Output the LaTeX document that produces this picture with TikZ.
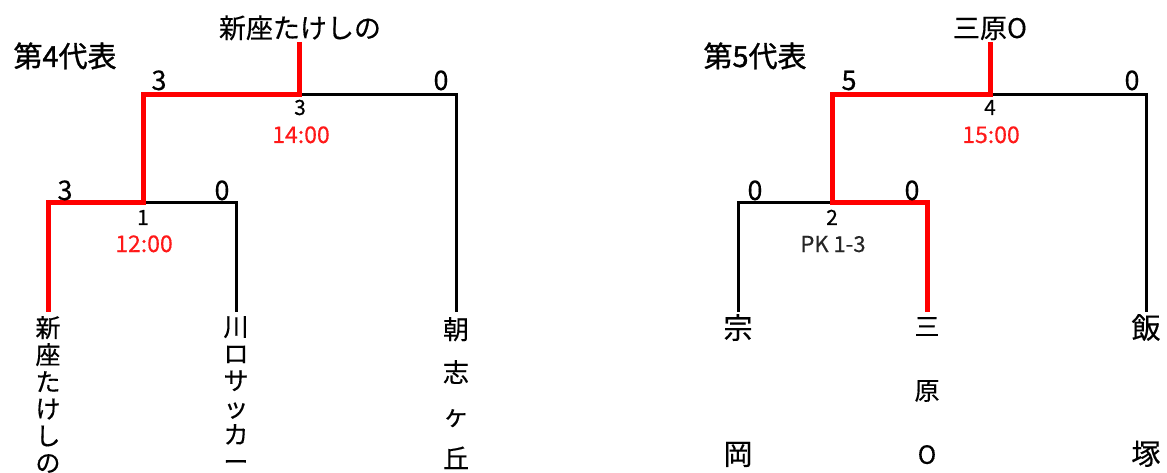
\documentclass[tikz,border=0pt]{standalone}
\usepackage{fontspec}
\setmainfont[FakeBold=0.4]{Noto Sans CJK JP}
\newfontfamily\hvy[FakeBold=1.2]{Noto Sans CJK JP}
\begin{document}
\begin{tikzpicture}[x=1pt,y=-1pt,
  win/.style={draw=red,line width=5pt,line join=miter},
  lose/.style={draw=black,line width=3pt,line join=miter},
  ttl/.style={inner sep=0pt,anchor=base,font=\hvy\fontsize{29}{29}\selectfont},
  champ/.style={inner sep=0pt,anchor=base,font=\fontsize{27}{27}\selectfont},
  score/.style={inner sep=0pt,anchor=base,font=\fontsize{27}{27}\selectfont},
  mnum/.style={inner sep=0pt,anchor=base,font=\fontsize{21}{21}\selectfont},
  mtime/.style={inner sep=0pt,anchor=base,text=red!90!white,font=\fontsize{23}{23}\selectfont},
  mnote/.style={inner sep=0pt,anchor=base,text=black!85,font=\fontsize{22}{22}\selectfont},
  team/.style={inner sep=0pt,anchor=north,align=center}]
\useasboundingbox (0,0) rectangle (1167,473);

% ---------- left bracket ----------
\node[ttl] (g4) at (65,67) {第4代表};
\node[champ] (w4) at (300,38) {新座たけしの};
\coordinate (w4b) at (299,42);
\coordinate (m3) at (299,95);
\coordinate (m3l) at (143,95);
\coordinate (m3r) at (456,95);
\coordinate (m1) at (143,203);
\coordinate (m1l) at (48,203);
\coordinate (m1r) at (236,203);
\coordinate (a1) at (48,312);
\coordinate (a2) at (236,312);
\coordinate (a3) at (456,312);

\draw[lose] (m3) -- (m3r) -- (a3);
\draw[lose] (m1) -- (m1r) -- (a2);
\draw[win] (w4b) -- (m3) -- (m3l) -- (m1) -- (m1l) -- (a1);

\node[score] (s3l) at (159,90) {3};
\node[score] (s3r) at (441,90) {0};
\node[score] (s1l) at (65,200) {3};
\node[score] (s1r) at (222,200) {0};
\node[mnum] (n3) at (300,115) {3};
\node[mtime] (t3) at (301,143) {14:00};
\node[mnum] (n1) at (143,225) {1};
\node[mtime] (t1) at (144,252) {12:00};

\node[team,font=\fontsize{25}{27}\selectfont] (ta1) at (48,316) {新\\座\\た\\け\\し\\の};
\node[team,font=\fontsize{25}{27}\selectfont] (ta2) at (236,316) {川\\ロ\\サ\\ッ\\カ\\ー};
\node[team,font=\fontsize{26}{43}\selectfont] (ta3) at (456,317) {朝\\志\\ヶ\\丘};

% ---------- right bracket ----------
\node[ttl] (g5) at (755,67) {第5代表};
\node[champ] (w5) at (990,38) {三原O};
\coordinate (w5b) at (990,42);
\coordinate (m4) at (990,95);
\coordinate (m4l) at (832,95);
\coordinate (m4r) at (1146,95);
\coordinate (m2) at (832,203);
\coordinate (m2l) at (738,203);
\coordinate (m2r) at (927,203);
\coordinate (b1) at (738,312);
\coordinate (b2) at (927,312);
\coordinate (b3) at (1146,312);

\draw[lose] (m4) -- (m4r) -- (b3);
\draw[lose] (m2) -- (m2l) -- (b1);
\draw[win] (w5b) -- (m4) -- (m4l) -- (m2) -- (m2r) -- (b2);

\node[score] (s4l) at (849,90) {5};
\node[score] (s4r) at (1132,90) {0};
\node[score] (s2l) at (755,200) {0};
\node[score] (s2r) at (912,200) {0};
\node[mnum] (n4) at (990,115) {4};
\node[mtime] (t4) at (991,143) {15:00};
\node[mnum] (n2) at (832,225) {2};
\node[mnote] (p2) at (833,252) {PK 1-3};

\node[team,font=\fontsize{29}{126}\selectfont] (tb1) at (738,314) {宗\\岡};
\node[team,font=\fontsize{25}{64}\selectfont] (tb2) at (927,317) {三\\原\\O};
\node[team,font=\fontsize{29}{126}\selectfont] (tb3) at (1146,314) {飯\\塚};
\end{tikzpicture}
\end{document}
